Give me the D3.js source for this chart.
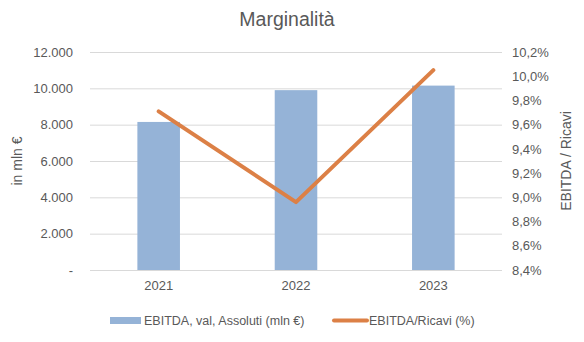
<!DOCTYPE html>
<html><head><meta charset="utf-8">
<script src="https://cdn.jsdelivr.net/npm/d3@7"></script>
<style>body{margin:0;background:#fff}svg{display:block}text{font-family:"Liberation Sans",Arial,sans-serif;fill:#595959}</style>
</head><body><svg id="c" width="584" height="342"></svg>
<script>
const categories = ["2021","2022","2023"];
const ebitdaValues = [8150, 9900, 10150];
const ebitdaRatio = [9.71, 8.96, 10.05];
const leftTicks = [0,2000,4000,6000,8000,10000,12000];
const rightTicks = [8.4,8.6,8.8,9.0,9.2,9.4,9.6,9.8,10.0,10.2];
const title = "Marginalità";
const seriesNames = ["EBITDA, val, Assoluti (mln €)", "EBITDA/Ricavi (%)"];

const svg = d3.select("#c");
const m = {l:90, r:82, t:52, b:72};
const W = 584, H = 342;
const x = d3.scaleBand().domain(categories).range([m.l, W-m.r]).paddingInner(0.69).paddingOuter(0.345);
const y = d3.scaleLinear().domain([0,12000]).range([H-m.b, m.t]);
const y2 = d3.scaleLinear().domain([8.4,10.2]).range([H-m.b, m.t]);
const fmtL = v => v===0 ? "-" : d3.format(",")(v).replace(/,/g,".");
const fmtR = v => v.toFixed(1).replace(".",",")+"%";

// gridlines
svg.append("g").selectAll("line").data(leftTicks).join("line")
  .attr("x1", m.l).attr("x2", W-m.r).attr("y1", d=>y(d)+0.5).attr("y2", d=>y(d)+0.5)
  .attr("stroke", "#d9d9d9").attr("stroke-width", 1);

// left axis
const ga = svg.append("g").attr("transform",`translate(${m.l-17},0)`)
  .call(d3.axisLeft(y).tickValues(leftTicks).tickFormat(fmtL).tickSize(0).tickPadding(0));
ga.select(".domain").remove();
ga.selectAll("text").style("font-size","13px").attr("fill","#595959");

// right axis
const gr = svg.append("g").attr("transform",`translate(${W-m.r+10},0)`)
  .call(d3.axisRight(y2).tickValues(rightTicks).tickFormat(fmtR).tickSize(0).tickPadding(0));
gr.select(".domain").remove();
gr.selectAll("text").style("font-size","13px").attr("fill","#595959");

// x axis labels
const gx = svg.append("g").attr("transform",`translate(0,${H-m.b+11})`)
  .call(d3.axisBottom(x).tickSize(0).tickPadding(0));
gx.select(".domain").remove();
gx.selectAll("text").style("font-size","13px").attr("fill","#595959");

// bars
svg.append("g").selectAll("rect").data(ebitdaValues).join("rect")
  .attr("x", (d,i)=>x(categories[i])).attr("width", x.bandwidth())
  .attr("y", d=>y(d)).attr("height", d=>y(0)-y(d)).attr("fill","#95b3d7");

// line
const line = d3.line().x((d,i)=>x(categories[i])+x.bandwidth()/2).y(d=>y2(d));
svg.append("path").datum(ebitdaRatio).attr("d", line)
  .attr("fill","none").attr("stroke","#dc8046").attr("stroke-width",4).attr("stroke-linecap","round").attr("stroke-linejoin","round");

// title
svg.append("text").attr("x", 287).attr("y", 26).attr("text-anchor","middle")
  .style("font-size","19.5px").text(title);

// axis titles
svg.append("text").attr("transform",`translate(22,${(m.t+H-m.b)/2}) rotate(-90)`)
  .attr("text-anchor","middle").style("font-size","14px").text("in mln €");
svg.append("text").attr("transform",`translate(571,${(m.t+H-m.b)/2}) rotate(-90)`)
  .attr("text-anchor","middle").style("font-size","14px").text("EBITDA / Ricavi");

// legend
const lg = svg.append("g");
lg.append("rect").attr("x",110).attr("y",317).attr("width",31).attr("height",7).attr("fill","#95b3d7");
lg.append("text").attr("x",144).attr("y",325).style("font-size","12.5px").text(seriesNames[0]);
lg.append("line").attr("x1",334).attr("x2",367).attr("y1",320.5).attr("y2",320.5).attr("stroke","#dc8046").attr("stroke-width",4).attr("stroke-linecap","round");
lg.append("text").attr("x",369).attr("y",325).style("font-size","12.5px").text(seriesNames[1]);
</script></body></html>
